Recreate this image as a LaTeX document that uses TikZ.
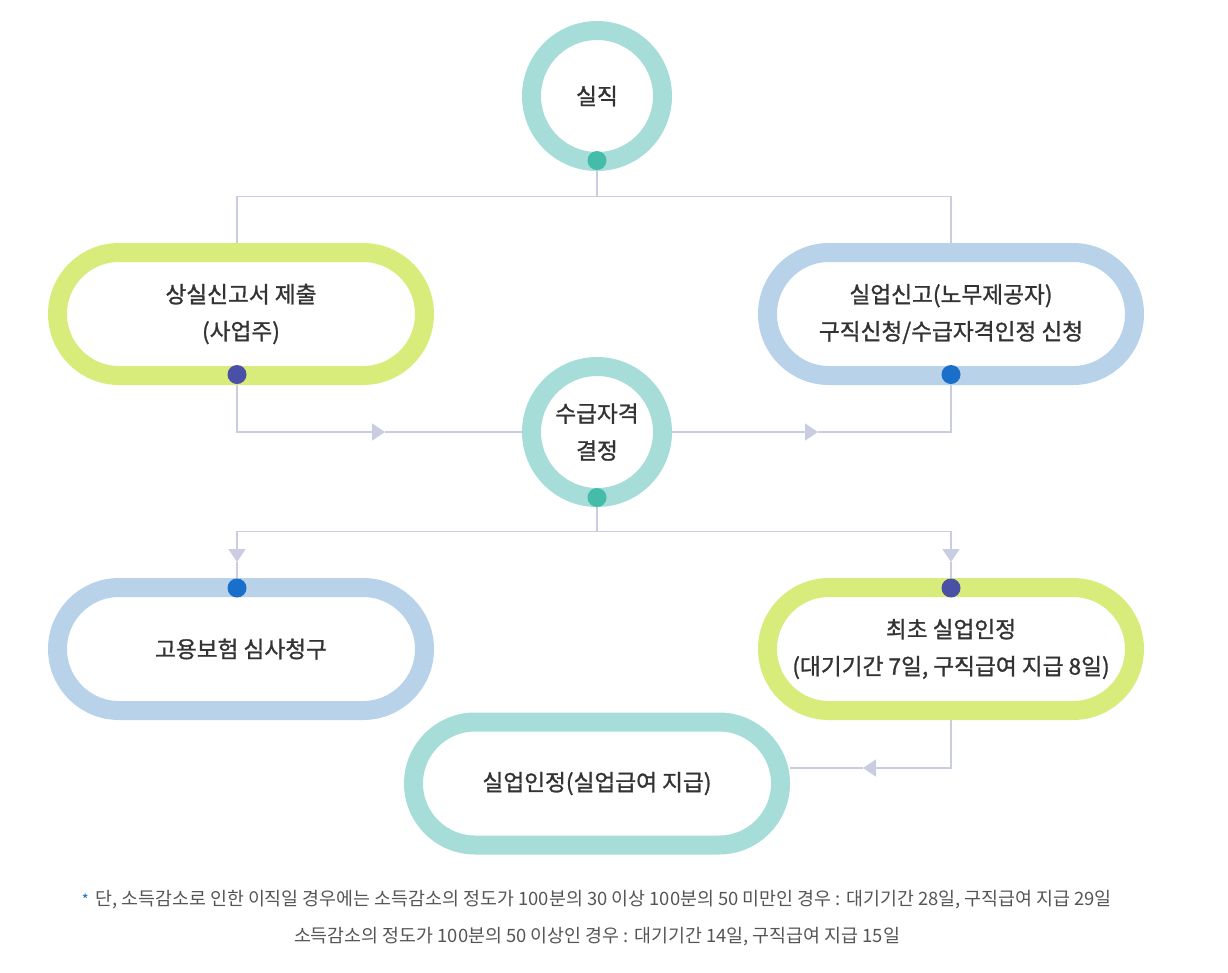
\documentclass[tikz,border=0pt]{standalone}
\usepackage{fontspec}
\newfontfamily\kr{Noto Sans CJK KR}[FakeBold=1.2]
\newfontfamily\krnote{Noto Sans CJK KR}
\usetikzlibrary{shapes.misc,arrows.meta,backgrounds,positioning}
\definecolor{ringteal}{HTML}{A6DDD8}
\definecolor{ringlime}{HTML}{D8EC7B}
\definecolor{ringblue}{HTML}{B8D2EA}
\definecolor{dotteal}{HTML}{45BBAA}
\definecolor{dotnavy}{HTML}{4A50A5}
\definecolor{dotblue}{HTML}{1A6FCB}
\definecolor{linec}{HTML}{CACDE2}
\definecolor{txt}{HTML}{333333}
\definecolor{notetxt}{HTML}{555555}
\begin{document}
\begin{tikzpicture}[x=0.75pt,y=-0.75pt,
  lbl/.style={text=txt,align=center,font=\kr\fontsize{17}{27.75}\selectfont},
  ring/.style={lbl,draw=#1,circle,line width=14.25pt,minimum size=98.25pt,inner sep=0pt},
  pill/.style={lbl,draw=#1,rounded rectangle,line width=14.25pt,minimum width=275.25pt,minimum height=92.25pt,inner sep=0pt},
  dot/.style={fill=#1,circle,minimum size=14.25pt,inner sep=0pt},
  conn/.style={draw=linec,line width=1.1pt},
  tip/.style={-{Triangle[length=9.75pt,width=12.75pt]}},
  note/.style={text=notetxt,font=\krnote\fontsize{13.8}{15}\selectfont}]
\useasboundingbox (0,0) rectangle (1228,972);
% steps
\node[ring=ringteal] (quit) at (597,96) {실직};
\node[pill=ringlime] (report) at (241,314) {상실신고서 제출\\(사업주)};
\node[pill=ringblue] (apply) at (951,314) {실업신고(노무제공자)\\구직신청/수급자격인정 신청};
\node[ring=ringteal] (decide) at (597,432) {수급자격\\결정};
\node[pill=ringblue] (appeal) at (241,649) {고용보험 심사청구};
\node[pill=ringlime] (first) at (951,649) {최초 실업인정\\(대기기간 7일, 구직급여 지급 8일)};
\node[pill=ringteal] (cert) at (597,783.5) {실업인정(실업급여 지급)};
% dots on the rings
\node[dot=dotteal] (quitdot) at (597,160.5) {};
\node[dot=dotnavy] (reportdot) at (237,374.5) {};
\node[dot=dotblue] (applydot) at (951,374.5) {};
\node[dot=dotteal] (decidedot) at (597,497.5) {};
\node[dot=dotblue] (appealdot) at (237,588) {};
\node[dot=dotnavy] (firstdot) at (951,588) {};
% arrow points
\coordinate (arrL) at (385,432);
\coordinate (arrR) at (818,432);
\coordinate (arrDL) at (237,562);
\coordinate (arrDR) at (951,562);
\coordinate (arrB) at (863,768);
\begin{scope}[on background layer]
\draw[conn] (quitdot.center) -- ++(0,36) -| (report.north -| reportdot);
\draw[conn] (quitdot.center) -- ++(0,36) -| (apply.north);
\draw[conn,tip] (reportdot.center) |- (arrL);
\draw[conn] (arrL) -- (decide);
\draw[conn,tip] (decide) -- (arrR);
\draw[conn] (arrR) -| (applydot.center);
\draw[conn,tip] (decidedot.center) -- ++(0,34) -| (arrDL);
\draw[conn] (arrDL) -- (appealdot);
\draw[conn,tip] (decidedot.center) -- ++(0,34) -| (arrDR);
\draw[conn] (arrDR) -- (firstdot);
\draw[conn,tip] (first.south) |- (arrB);
\draw[conn] (arrB) -- (arrB -| cert.east);
\end{scope}
% note
\node[note] (note1) at (603.5,900)
  {단, 소득감소로 인한 이직일 경우에는 소득감소의 정도가 100분의 30 이상 100분의 50 미만인 경우 : 대기기간 28일, 구직급여 지급 29일};
\node[text=dotblue,font=\krnote\fontsize{11}{11}\selectfont,inner sep=0pt,left=1pt of note1.west] (star) {*};
\node[note] (note2) at (597,937)
  {소득감소의 정도가 100분의 50 이상인 경우 : 대기기간 14일, 구직급여 지급 15일};
\end{tikzpicture}
\end{document}
